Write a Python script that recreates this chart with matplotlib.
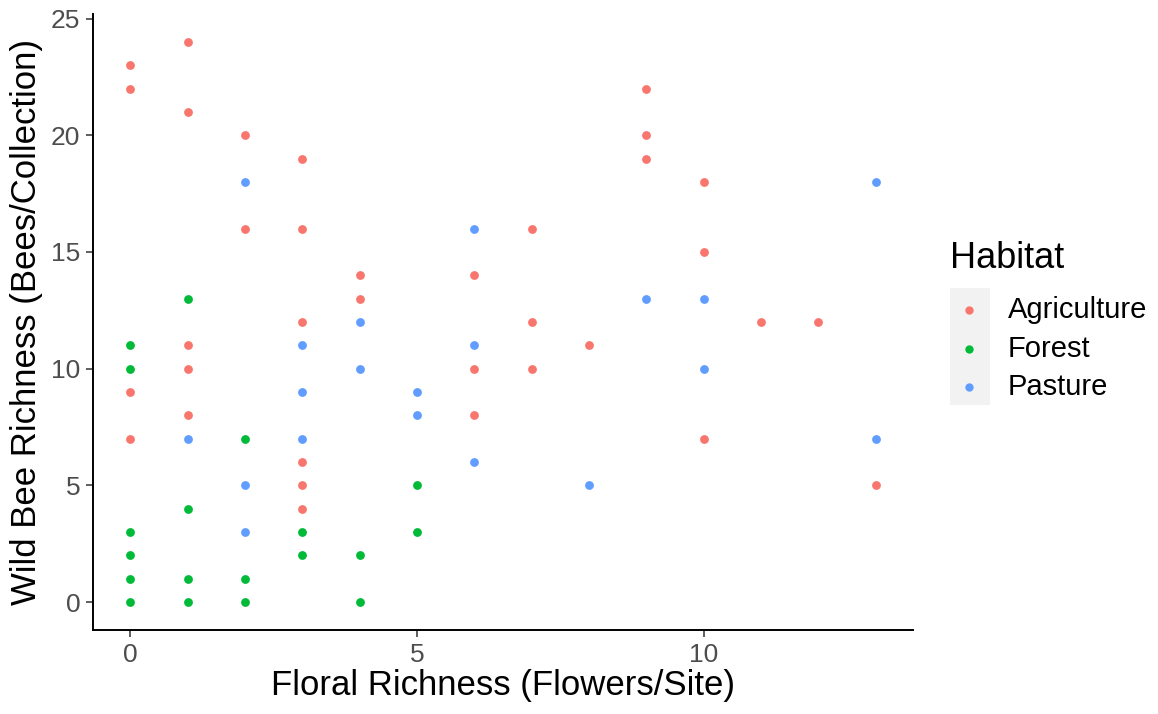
import matplotlib.pyplot as plt
from matplotlib.lines import Line2D
from matplotlib.patches import Rectangle

plt.rcParams['font.family'] = ['Liberation Sans', 'DejaVu Sans']

# Agriculture
agri_x = [0, 0, 0, 0, 1, 1, 1, 1, 1, 2, 2, 3, 3, 3, 3, 3, 3, 4, 4,
          6, 6, 6, 7, 7, 7, 8, 9, 9, 9, 10, 10, 10, 11, 12, 13]
agri_y = [23, 22, 9, 7, 24, 21, 11, 10, 8, 20, 16, 19, 16, 12, 6, 5, 4, 14, 13,
          14, 10, 8, 16, 12, 10, 11, 22, 20, 19, 18, 15, 7, 12, 12, 5]

# Forest
forest_x = [0, 0, 0, 0, 0, 0, 1, 1, 1, 1, 2, 2, 2, 3, 3, 4, 4, 5, 5]
forest_y = [11, 10, 3, 2, 1, 0, 13, 4, 1, 0, 7, 1, 0, 3, 2, 2, 0, 5, 3]

# Pasture
past_x = [1, 2, 2, 2, 3, 3, 3, 4, 4, 5, 5, 6, 6, 6, 8, 9, 10, 10, 13, 13]
past_y = [7, 18, 5, 3, 11, 9, 7, 12, 10, 9, 8, 16, 11, 6, 5, 13, 13, 10, 18, 7]

groups = ["Agriculture", "Forest", "Pasture"]
colors = ["#F8766D", "#00BA38", "#619CFF"]
data = [(agri_x, agri_y), (forest_x, forest_y), (past_x, past_y)]

W, H = 1158, 714
fig = plt.figure(figsize=(W / 100, H / 100), dpi=100)
ax = fig.add_axes([93 / W, 1 - 630 / H, (913 - 93) / W, (630 - 14) / H])

for (x, y), c in zip(data, colors):
    ax.scatter(x, y, s=40, color=c, linewidths=0, zorder=3)

ax.set_xlim(-0.65, 13.65)
ax.set_ylim(-1.2, 25.2)
ax.set_xticks([0, 5, 10])
ax.set_yticks([0, 5, 10, 15, 20, 25])

for s in ["top", "right"]:
    ax.spines[s].set_visible(False)
for s in ["left", "bottom"]:
    ax.spines[s].set_linewidth(1.4)
    ax.spines[s].set_color("black")
ax.tick_params(axis="both", length=5, width=1.1, color="#333333",
               labelsize=19, labelcolor="#4D4D4D", pad=4)

ax.set_xlabel("Floral Richness (Flowers/Site)", fontsize=25, labelpad=2)
ax.set_ylabel("Wild Bee Richness (Bees/Collection)", fontsize=25, labelpad=6)

# legend
fig.text(950 / W, 1 - 268 / H, "Habitat", fontsize=26, ha="left", va="baseline")
fig.add_artist(Rectangle((950 / W, 1 - 405 / H), 40 / W, 117 / H,
                         transform=fig.transFigure, facecolor="#F2F2F2",
                         edgecolor="none"))
for i, (g, c) in enumerate(zip(groups, colors)):
    yy = 1 - (310 + 38.5 * i) / H
    fig.add_artist(Line2D([969 / W], [yy], marker="o", markersize=6,
                          markeredgewidth=0, color=c, transform=fig.transFigure))
    fig.text(1008 / W, yy, g, fontsize=21, ha="left", va="center")

fig.savefig("out.png", dpi=100)
